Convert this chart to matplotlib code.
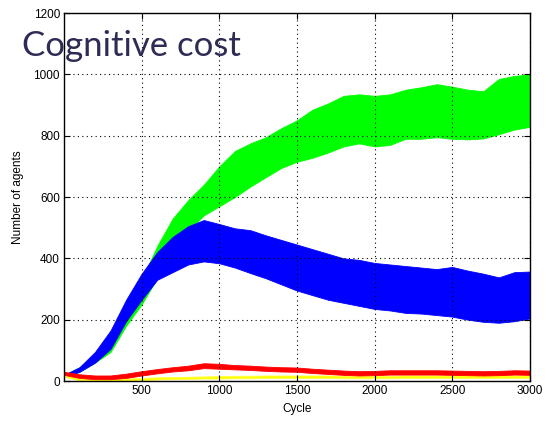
import matplotlib
matplotlib.use("Agg")
import matplotlib.pyplot as plt

cycles = [1, 100, 200, 300, 400, 500, 600, 700, 800, 900, 1000, 1100, 1200,
          1300, 1400, 1500, 1600, 1700, 1800, 1900, 2000, 2100, 2200, 2300,
          2400, 2500, 2600, 2700, 2800, 2900, 3000]

green_hi = [20, 45, 88, 160, 245, 330, 440, 530, 590, 640, 700, 750, 775,
            795, 825, 850, 885, 905, 930, 935, 930, 935, 950, 958, 968, 960,
            950, 945, 985, 995, 1000]
green_lo = [15, 30, 60, 95, 180, 250, 335, 420, 490, 540, 570, 600, 634,
            665, 695, 715, 728, 745, 765, 775, 765, 770, 790, 790, 795, 790,
            788, 791, 805, 820, 829]

blue_hi = [20, 45, 95, 165, 265, 350, 420, 470, 505, 525, 512, 498, 492,
           475, 460, 445, 430, 415, 400, 395, 385, 380, 375, 370, 365, 372,
           360, 350, 338, 355, 357]
blue_lo = [12, 30, 60, 105, 195, 265, 330, 355, 380, 390, 384, 370, 352,
           335, 315, 295, 280, 265, 255, 245, 235, 230, 222, 220, 215, 210,
           200, 193, 190, 195, 204]

red_hi = [30, 22, 18, 18, 24, 32, 39, 45, 50, 58, 56, 52, 50, 47, 45, 44,
          40, 37, 34, 32, 33, 35, 35, 35, 35, 34, 33, 32, 33, 35, 34]
red_lo = [20, 10, 6, 6, 10, 18, 25, 31, 35, 42, 40, 38, 36, 33, 31, 30, 26,
          23, 20, 18, 19, 21, 21, 21, 21, 20, 19, 18, 19, 21, 20]

yellow_hi = [20, 8, 5, 6, 8, 10, 12, 13, 14, 15, 16, 17, 17, 18, 18, 18, 18,
             18, 17, 17, 17, 17, 18, 18, 18, 18, 18, 18, 18, 18, 18]
yellow_lo = [14, 2, 0, 0, 1, 3, 5, 6, 7, 8, 8, 9, 9, 10, 10, 10, 10, 10, 9,
             9, 9, 9, 10, 10, 10, 10, 10, 10, 10, 10, 10]

x_ticks = [500, 1000, 1500, 2000, 2500, 3000]
y_ticks = [0, 200, 400, 600, 800, 1000, 1200]

plt.rcParams['font.family'] = ['Liberation Sans', 'DejaVu Sans']

fig = plt.figure(figsize=(5.48, 4.21), dpi=100)
ax = fig.add_axes([0.117, 0.095, 0.850, 0.874])

ax.fill_between(cycles, green_lo, green_hi, color='#00ff00', lw=0.6, edgecolor='#00ff00')
ax.fill_between(cycles, blue_lo, blue_hi, color='#0000ff', lw=0.6, edgecolor='#0000ff')
ax.fill_between(cycles, yellow_lo, yellow_hi, color='#ffff00', lw=0.6, edgecolor='#ffff40')
ax.fill_between(cycles, red_lo, red_hi, color='#ff0000', lw=0.6, edgecolor='#ff0000')

ax.set_xlim(1, 3000)
ax.set_ylim(0, 1200)
ax.set_xticks(x_ticks)
ax.set_yticks(y_ticks)
ax.tick_params(direction='in', top=True, right=True, labelsize=8.5,
               length=4, width=0.8, pad=3)
ax.grid(True, color='black', linestyle=(0, (1, 3)), linewidth=0.8)
for s in ax.spines.values():
    s.set_linewidth(1.0)

ax.set_xlabel("Cycle", fontsize=8.5, labelpad=4)
ax.set_ylabel("Number of agents", fontsize=8.5, labelpad=7)

# slide title sitting over the plot
fig.text(0.040, 0.868, "Cognitive cost", fontsize=25, color='#2e2b55',
         family=['Lato', 'DejaVu Sans'], ha='left', va='baseline')

fig.savefig("out.png", dpi=100, facecolor='white')
